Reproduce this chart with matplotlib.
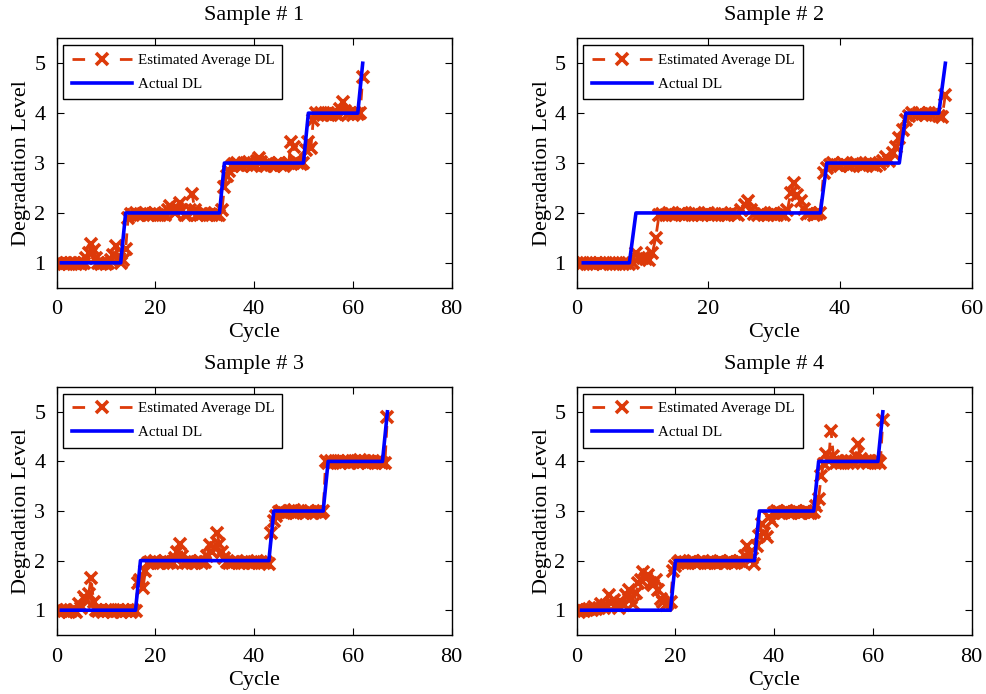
import numpy as np
import matplotlib
matplotlib.use("Agg")
import matplotlib.pyplot as plt

plt.rcParams['font.family'] = 'serif'
plt.rcParams['font.serif'] = ['Liberation Serif', 'DejaVu Serif']
plt.rcParams['mathtext.fontset'] = 'stix'

# Estimated average degradation level, sampled every half cycle from cycle 0
est_dl_1 = [
    1.00, 0.97, 1.00, 0.98, 1.00, 0.97, 0.99, 1.00, 0.97, 1.00,
    0.98, 1.00, 1.10, 1.20, 1.37, 1.25, 1.10, 1.00, 0.98, 1.00,
    0.97, 1.00, 1.05, 1.15, 1.33, 1.10, 1.00, 1.05, 1.27, 1.90,
    1.98, 1.95, 2.00, 1.96, 1.95, 1.98, 2.00, 1.95, 1.97, 1.95,
    2.00, 1.96, 1.95, 1.98, 1.96, 2.05, 2.13, 2.05, 2.00, 2.10,
    2.20, 2.05, 1.96, 1.95, 2.05, 2.37, 2.05, 1.96, 1.95, 1.98,
    2.00, 1.95, 1.97, 1.95, 1.98, 1.96, 1.95, 2.05, 2.53, 2.75,
    2.85, 2.95, 2.98, 3.00, 2.96, 2.95, 3.00, 2.97, 3.02, 2.95,
    2.98, 3.05, 3.10, 3.02, 2.96, 2.95, 3.00, 2.97, 2.95, 2.98,
    3.00, 2.96, 2.95, 2.98, 3.00, 3.43, 3.33, 3.05, 3.00, 2.98,
    3.00, 3.27, 3.43, 3.30, 3.87, 4.00, 3.97, 4.00, 3.96, 3.98,
    4.00, 3.97, 4.00, 3.98, 3.96, 4.08, 4.23, 4.05, 3.98, 4.00,
    3.97, 4.00, 3.98, 4.00, 4.73,
]
est_dl_2 = [
    1.00, 0.97, 1.00, 0.98, 1.00, 0.97, 0.99, 1.00, 0.97, 1.00,
    0.98, 1.00, 0.97, 1.00, 0.98, 1.00, 0.97, 1.00, 1.20, 1.10,
    1.10, 1.07, 1.05, 1.20, 1.50, 1.95, 1.98, 1.95, 2.00, 1.96,
    1.95, 1.98, 2.00, 1.95, 1.97, 1.95, 2.00, 1.96, 1.95, 1.98,
    2.00, 1.95, 1.97, 1.95, 1.98, 1.96, 1.95, 2.00, 1.97, 1.95,
    2.05, 2.15, 2.23, 2.05, 1.98, 1.95, 2.00, 1.96, 1.95, 1.98,
    2.00, 1.95, 1.97, 1.95, 2.05, 2.40, 2.60, 2.35, 2.23, 2.07,
    1.98, 2.00, 1.96, 1.98, 2.00, 2.80, 2.90, 2.97, 3.00, 2.96,
    2.95, 3.00, 2.97, 2.95, 2.98, 3.00, 2.96, 2.95, 2.98, 3.00,
    2.96, 2.95, 2.98, 3.05, 3.13, 3.05, 3.20, 3.33, 3.50, 3.67,
    3.87, 3.95, 4.00, 3.97, 4.00, 3.98, 3.96, 4.00, 3.97, 4.00,
    3.95, 3.92, 4.37,
]
est_dl_3 = [
    1.00, 0.97, 1.00, 0.98, 1.00, 0.97, 0.99, 1.00, 0.97, 1.13,
    1.05, 1.27, 1.20, 1.33, 1.64, 1.17, 1.00, 0.98, 1.00, 0.97,
    1.00, 0.98, 1.00, 0.97, 0.99, 1.00, 0.97, 1.00, 0.98, 1.00,
    0.97, 1.00, 0.98, 1.54, 1.60, 1.44, 1.80, 1.95, 1.98, 1.95,
    2.00, 1.96, 1.95, 1.98, 2.00, 1.95, 1.97, 1.95, 2.05, 2.18,
    2.34, 2.10, 1.98, 1.95, 2.00, 1.96, 1.95, 1.98, 2.00, 1.95,
    1.97, 2.10, 2.31, 2.18, 2.25, 2.55, 2.34, 2.18, 2.05, 1.98,
    1.96, 1.95, 1.98, 2.00, 1.95, 1.97, 1.95, 1.98, 1.96, 1.95,
    1.98, 2.00, 1.95, 1.97, 1.95, 1.98, 1.94, 2.55, 2.80, 2.90,
    2.98, 3.00, 2.96, 2.95, 3.00, 2.97, 3.02, 2.95, 2.98, 3.00,
    2.96, 2.95, 3.00, 2.97, 2.95, 2.98, 3.00, 2.96, 3.00, 4.00,
    3.97, 4.00, 3.96, 3.98, 4.00, 3.97, 4.00, 3.98, 4.00, 3.96,
    3.98, 4.00, 3.97, 4.02, 3.98, 4.00, 3.96, 3.98, 4.00, 3.97,
    4.00, 3.98, 3.96, 3.97, 4.90,
]
est_dl_4 = [
    1.00, 0.97, 1.00, 0.98, 1.00, 1.03, 1.00, 1.07, 1.02, 1.05,
    1.13, 1.05, 1.10, 1.30, 1.15, 1.20, 1.10, 1.05, 1.17, 1.10,
    1.30, 1.40, 1.25, 1.13, 1.35, 1.54, 1.60, 1.77, 1.65, 1.70,
    1.55, 1.50, 1.60, 1.40, 1.23, 1.17, 1.10, 1.15, 1.17, 1.80,
    1.90, 1.96, 2.00, 1.95, 1.97, 1.95, 1.98, 2.00, 1.96, 1.95,
    1.98, 2.00, 1.95, 1.97, 1.95, 1.98, 1.96, 1.95, 2.00, 1.97,
    1.95, 1.98, 2.00, 1.96, 1.95, 1.98, 2.00, 1.97, 2.10, 2.30,
    2.15, 2.05, 1.94, 2.30, 2.50, 2.74, 2.55, 2.48, 2.88, 2.80,
    2.95, 3.00, 2.97, 2.95, 2.98, 3.00, 2.96, 2.95, 2.98, 3.00,
    2.97, 2.95, 2.98, 3.00, 2.96, 2.95, 2.98, 3.10, 3.25, 3.70,
    3.95, 4.15, 4.00, 4.62, 4.10, 3.97, 4.00, 3.96, 3.98, 4.00,
    3.97, 4.00, 3.96, 4.10, 4.35, 4.05, 3.98, 4.00, 3.97, 4.00,
    3.98, 3.96, 4.00, 3.97, 4.83,
]

# Actual degradation level (step corners)
actual_cycle_1 = [1, 13, 14, 33, 34, 50, 51, 61, 62]
actual_cycle_2 = [1, 8, 9, 37, 38, 49, 50, 55, 56]
actual_cycle_3 = [1, 16, 17, 43, 44, 54, 55, 66, 67]
actual_cycle_4 = [1, 19, 20, 36, 37, 48, 49, 61, 62]
actual_dl = [1, 1, 2, 2, 3, 3, 4, 4, 5]

titles = ["Sample # 1", "Sample # 2", "Sample # 3", "Sample # 4"]
x_limits = [80, 60, 80, 80]
y_ticks = [1, 2, 3, 4, 5]

est_color = '#DD3A0A'
act_color = '#0000FF'

fig = plt.figure(figsize=(9.87, 6.94), dpi=100)
W, H = 987.0, 694.0
boxes = [
    (56.5, 38.3, 451.6, 287.8),
    (576.7, 38.3, 971.7, 287.8),
    (56.5, 387.0, 451.6, 635.0),
    (576.7, 387.0, 971.7, 635.0),
]

estimates = [est_dl_1, est_dl_2, est_dl_3, est_dl_4]
actual_cycles = [actual_cycle_1, actual_cycle_2, actual_cycle_3, actual_cycle_4]

leg_fontsize = 10.8
leg_handlelength = 4.0
est_lw = 2.0

for k in range(4):
    l, t, r, b = boxes[k]
    ax = fig.add_axes([l / W, 1 - b / H, (r - l) / W, (b - t) / H])
    est = estimates[k]
    cyc = np.arange(len(est)) * 0.5
    ax.plot(cyc, est, color=est_color, linestyle='--', dashes=(4.2, 2.8),
            linewidth=est_lw, marker='x', markersize=8.5, markeredgewidth=2.6,
            label='Estimated Average DL', zorder=2)
    ax.plot(actual_cycles[k], actual_dl, color=act_color, linewidth=2.6,
            label='Actual DL', zorder=3)
    ax.set_xlim(0, x_limits[k])
    ax.set_ylim(0.5, 5.5)
    ax.set_xticks(np.arange(0, x_limits[k] + 1, 20))
    ax.set_yticks(y_ticks)
    ax.tick_params(direction='in', length=5, width=0.8, labelsize=16,
                   top=True, right=True)
    ax.tick_params(axis='x', pad=9)
    ax.tick_params(axis='y', pad=8)
    for sp in ax.spines.values():
        sp.set_linewidth(1.0)
    ax.set_title(titles[k], fontsize=16, pad=13)
    ax.set_xlabel('Cycle', fontsize=16, labelpad=3)
    ax.set_ylabel('Degradation Level', fontsize=16, labelpad=2)
    leg = ax.legend(loc='upper left', fontsize=leg_fontsize, fancybox=False,
                    handlelength=leg_handlelength, handletextpad=0.4,
                    labelspacing=0.7, borderpad=0.55, borderaxespad=0.45,
                    numpoints=1, framealpha=1.0)
    leg.get_frame().set_edgecolor('black')
    leg.get_frame().set_linewidth(1.0)
    # legend key: one short dash at each end with the cross in between
    # (dash lengths are given in units of the line width)
    span = leg_handlelength * leg_fontsize
    dash_on = 0.21 * span
    leg.get_lines()[0].set_dashes((dash_on / est_lw,
                                   (span - 2 * dash_on) / est_lw))

fig.savefig('out.png', dpi=100)
